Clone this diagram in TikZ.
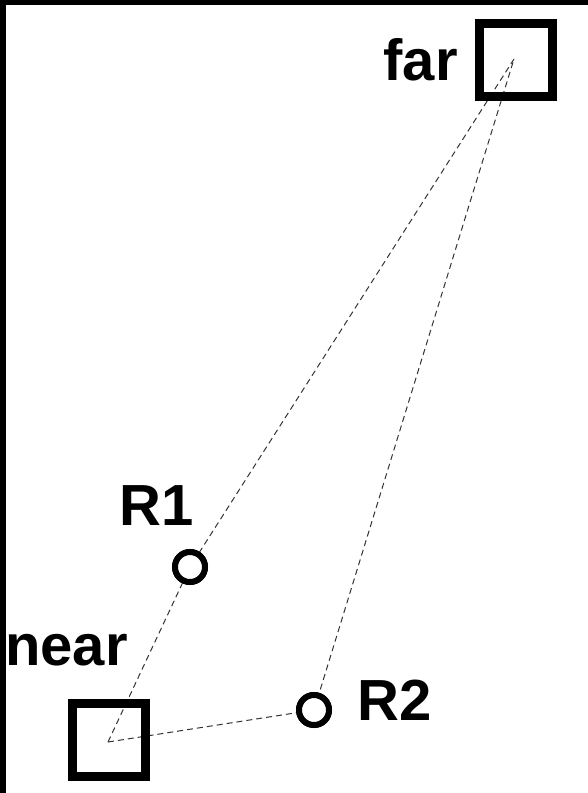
\documentclass[tikz,border=0pt]{standalone}
\usepackage{fontspec}
\setmainfont{Liberation Sans}
\usetikzlibrary{calc}

\tikzset{
  station/.style={draw, line width=8.5pt, minimum size=73pt, inner sep=0pt},
  relay/.style={draw, circle, fill=white, line width=6pt, minimum size=30pt, inner sep=0pt},
  link/.style={dashed, dash pattern=on 6pt off 4pt, line width=1pt, black!80},
  tag/.style={inner sep=0pt, font=\bfseries\fontsize{58}{58}\selectfont}
}

\begin{document}
\begin{tikzpicture}[x=1pt,y=-1pt]

% frame
\useasboundingbox (0,0) rectangle (588,793);
\fill[black] (0,0) rectangle (588,5);
\fill[black] (0,0) rectangle (6,793);

% end points
\coordinate (n) at (108,742);
\coordinate (f) at (514,59);

% relays
\node[relay] (R1) at (190,567) {};
\node[relay] (R2) at (314,710) {};

% dashed links
\draw[link] (n) -- (R1.center) -- (f);
\draw[link] (n) -- (R2.center) -- (f);

% redraw relays above the links
\node[relay] at (R1) {};
\node[relay] at (R2) {};

% stations
\node[station] (near) at (109,740) {};
\node[station] (far) at (516,60) {};

% labels
\node[tag, anchor=base east] (farlbl) at (458,80) {far};
\node[tag, anchor=base west] (nearlbl) at (5,665) {near};
\node[tag, anchor=base west] (R1lbl) at (119,525) {R1};
\node[tag, anchor=base west] (R2lbl) at (357,720) {R2};

\end{tikzpicture}
\end{document}
